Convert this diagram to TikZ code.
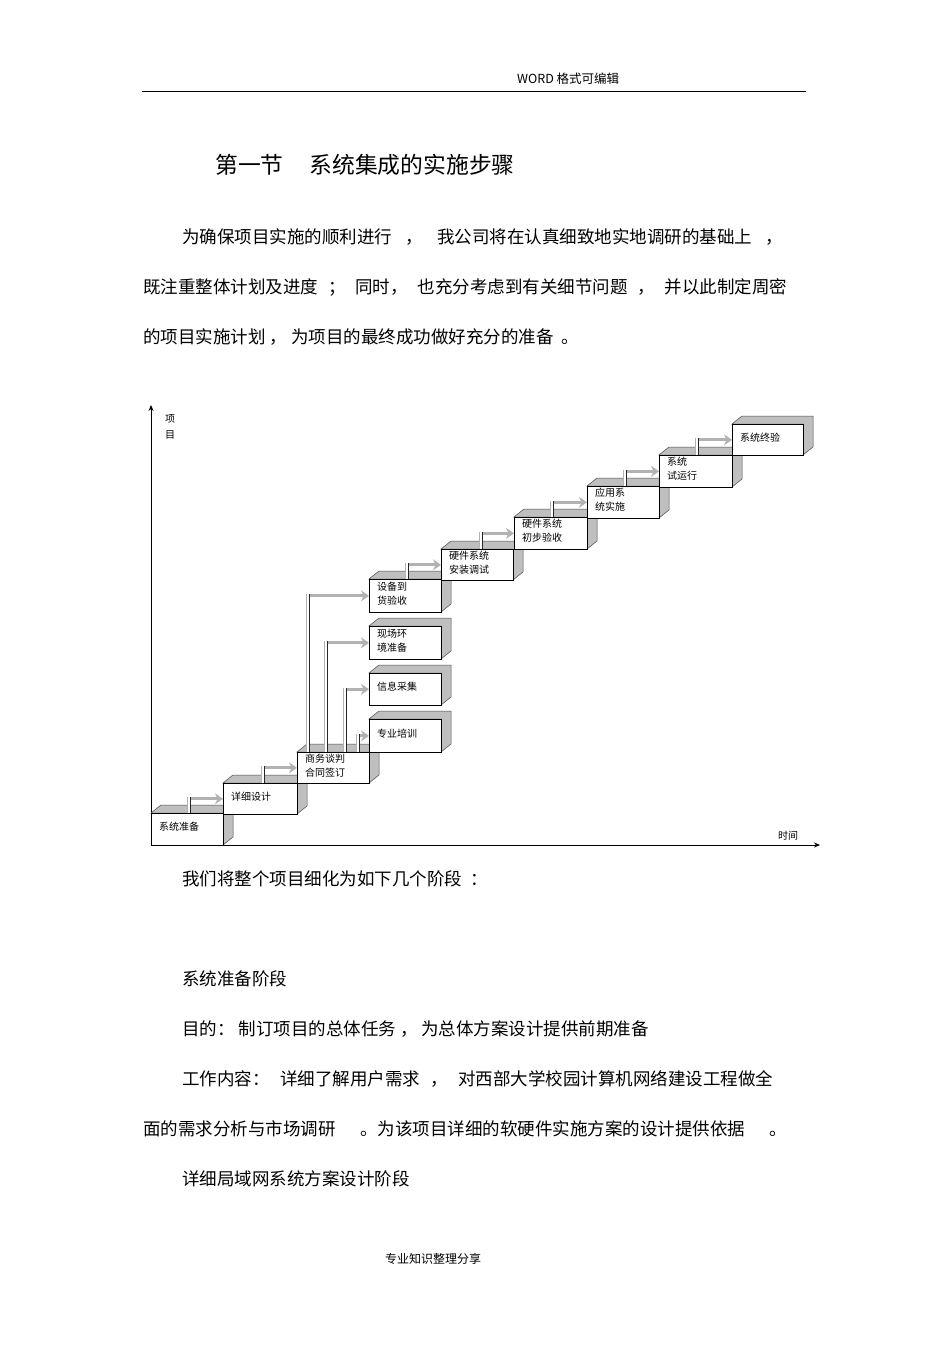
\documentclass[tikz,border=0pt]{standalone}
\usepackage{fontspec}
\newfontfamily\cjk{Noto Sans CJK SC}
\usetikzlibrary{calc,arrows.meta}
\newcommand\stbox[6]{%
 \fill[gray!50,draw=black!70,line width=0.5pt] (#2,#3)--++(10,-8)--(#4+10,#3-8)--(#4+10,#5-8)--(#4,#5)--(#4,#3)--cycle;
 \node[draw,fill=white,line width=0.7pt,minimum width={(#4-#2)*1pt},minimum height={(#5-#3)*1pt},anchor=north west,inner sep=0] (#1) at (#2,#3) {};
 \node[anchor=west,align=left,font=\cjk\fontsize{10}{14}\selectfont,inner sep=0] at (#2+8,{(#3+#5)/2-2}) {#6};}
\newcommand\flowarrow[3]{%
 \draw[flow] ($(#1.north west)+(#2,0)$) |- (#3);
 \draw[stem] let \p1=($(#1.north west)+(#2,0)$), \p2=(#3) in (\x1,\y1) -- (\x1,\y2+1.6pt);}
\tikzset{flow/.style={draw=gray!60,line width=3.2pt,-{Stealth[length=8pt,width=11pt]}},
 stem/.style={draw=black!85,double=white,line width=0.7pt,double distance=1.6pt},
 body/.style={anchor=base west,inner sep=0,font=\cjk\fontsize{17.5}{20}\selectfont}}
\begin{document}
\begin{tikzpicture}[x=1pt,y=-1pt]
\useasboundingbox (0,0) rectangle (950,1345);
\fill[white] (0,0) rectangle (950,1345);
\node[anchor=base west,inner sep=0,font=\cjk\fontsize{12.5}{14}\selectfont] (hdr) at (517,83) {WORD 格式可编辑};
\draw[line width=0.7pt] (142,91) -- (806,91);
\node[anchor=base west,inner sep=0,font=\cjk\fontsize{22.8}{26}\selectfont] (title) at (215,173) {第一节\hspace{26pt}系统集成的实施步骤};
\node[body] (p1) at (182,243) {\makebox[601pt][s]{为确保项目实施的顺利进行 ， 我公司将在认真细致地实地调研的基础上 ，}};
\node[body] (p2) at (143,293) {\makebox[644pt][s]{既注重整体计划及进度 ； 同时， 也充分考虑到有关细节问题 ， 并以此制定周密}};
\node[body] (p3) at (143,343) {的项目实施计划 ， 为项目的最终成功做好充分的准备 \ 。};
\draw[line width=0.8pt,-{Stealth[length=6pt,width=5pt]}] (151,845) -- (151,405);
\draw[line width=0.8pt,-{Stealth[length=6pt,width=5pt]}] (151,845) -- (820,845);
\node[anchor=north west,inner sep=0,align=left,font=\cjk\fontsize{10}{16}\selectfont] (ylab) at (165,414) {项\\目};
\node[anchor=base west,inner sep=0,font=\cjk\fontsize{10}{12}\selectfont] (xlab) at (778,839) {时间};
\stbox{b1}{151}{813}{223}{845}{系统准备}
\stbox{b2}{223}{783}{297}{814}{详细设计}
\stbox{b3}{297}{752}{369}{783}{商务谈判\\合同签订}
\stbox{b7}{369}{579}{441}{612}{设备到\\货验收}
\stbox{b6}{369}{626}{441}{659}{现场环\\境准备}
\stbox{b5}{369}{673}{441}{705}{信息采集}
\stbox{b4}{369}{719}{441}{752}{专业培训}
\stbox{b8}{441}{549}{513}{580}{硬件系统\\安装调试}
\stbox{b9}{514}{517}{587}{549}{硬件系统\\初步验收}
\stbox{b10}{587}{486}{659}{518}{应用系\\统实施}
\stbox{b11}{659}{455}{732}{487}{系统\\试运行}
\stbox{b12}{732}{424}{803}{455}{系统终验}
\flowarrow{b1}{38}{b2.west}
\flowarrow{b2}{40}{b3.west}
\flowarrow{b3}{11}{b7.west}
\flowarrow{b3}{29}{b6.west}
\flowarrow{b3}{48}{b5.west}
\flowarrow{b3}{61}{b4.west}
\flowarrow{b7}{38}{b8.west}
\flowarrow{b8}{40}{b9.west}
\flowarrow{b9}{38}{b10.west}
\flowarrow{b10}{38}{b11.west}
\flowarrow{b11}{38}{b12.west}
\node[body] (p4) at (182,885) {我们将整个项目细化为如下几个阶段 \ ：};
\node[body] (p5) at (182,985) {系统准备阶段};
\node[body] (p6) at (182,1035) {目的： 制订项目的总体任务 ， 为总体方案设计提供前期准备};
\node[body] (p7) at (182,1085) {\makebox[591pt][s]{工作内容： 详细了解用户需求 ， 对西部大学校园计算机网络建设工程做全}};
\node[body] (p8) at (143,1135) {\makebox[644pt][s]{面的需求分析与市场调研 \ 。为该项目详细的软硬件实施方案的设计提供依据 \ 。}};
\node[body] (p9) at (182,1185) {详细局域网系统方案设计阶段};
\node[anchor=base,inner sep=0,font=\cjk\fontsize{12}{14}\selectfont] (ftr) at (433,1263) {专业知识整理分享};
\end{tikzpicture}
\end{document}
